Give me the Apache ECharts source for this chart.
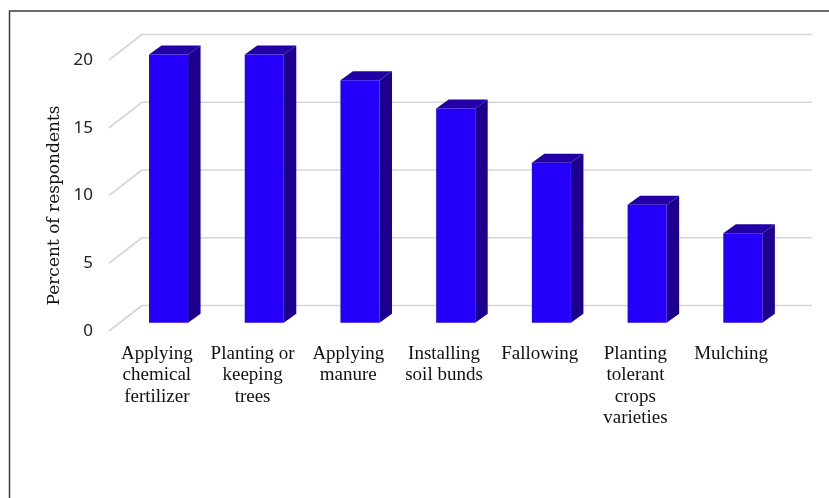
<!DOCTYPE html>
<html>
<head>
<meta charset="utf-8">
<script src="https://cdn.jsdelivr.net/npm/echarts@6/dist/echarts.min.js"></script>
<style>
  html, body { margin: 0; padding: 0; background: #ffffff; }
  #chart { width: 829px; height: 498px; }
</style>
</head>
<body>
<div id="chart"></div>
<script>
// Soil fertility management practices
const categories = [
  'Applying\nchemical\nfertilizer',
  'Planting or\nkeeping\ntrees',
  'Applying\nmanure',
  'Installing\nsoil bunds',
  'Fallowing',
  'Planting\ntolerant\ncrops\nvarieties',
  'Mulching'
];
// Percent of respondents per practice
const respondentShare = [19.8, 19.8, 17.9, 15.8, 11.8, 8.7, 6.6];
// Value axis ticks
const yTicks = [0, 5, 10, 15, 20];

// Pseudo-3D geometry (pixels)
const WALL_DX = 33, WALL_DY = -25.5;      // floor depth, front edge to back wall
const BAR_FRONT_DX = 0, BAR_FRONT_DY = -8.3; // bar front face behind the front edge
const BAR_DX = 12.5, BAR_DY = -9;         // bar depth
const BAR_START = 0.418, BAR_WIDTH = 0.408; // fractions of the category band

const COLOR_FRONT = '#2400fb';
const COLOR_SIDE = '#1c008c';
const COLOR_TOP = '#2200a6';
const GRID_COLOR = '#d6d6d6';

const chart = echarts.init(document.getElementById('chart'), null, { renderer: 'canvas' });

function renderWall(params, api) {
  const v = api.value(1);
  const p = api.coord([0, v]);
  const bw = api.size([1, 0])[0];
  const x0 = p[0] - bw / 2;
  const x1 = x0 + bw * categories.length;
  const y = p[1];
  const style = { stroke: GRID_COLOR, lineWidth: 1.6, fill: null };
  return {
    type: 'group',
    children: [
      { type: 'line', shape: { x1: x0, y1: y, x2: x0 + WALL_DX, y2: y + WALL_DY }, style: style },
      { type: 'line', shape: { x1: x0 + WALL_DX, y1: y + WALL_DY, x2: x1 + WALL_DX, y2: y + WALL_DY }, style: style }
    ]
  };
}

function renderBar(params, api) {
  const i = api.value(0);
  const v = api.value(1);
  const base = api.coord([i, 0]);
  const top = api.coord([i, v]);
  const bw = api.size([1, 0])[0];
  const bandStart = base[0] - bw / 2;
  const fx = bandStart + BAR_START * bw + BAR_FRONT_DX;
  const w = BAR_WIDTH * bw;
  const ty = top[1] + BAR_FRONT_DY;
  const by = base[1] + BAR_FRONT_DY;
  return {
    type: 'group',
    children: [
      {
        type: 'polygon',
        shape: { points: [[fx + w, ty], [fx + w + BAR_DX, ty + BAR_DY], [fx + w + BAR_DX, by + BAR_DY], [fx + w, by]] },
        style: { fill: COLOR_SIDE }
      },
      {
        type: 'polygon',
        shape: { points: [[fx, ty], [fx + BAR_DX, ty + BAR_DY], [fx + w + BAR_DX, ty + BAR_DY], [fx + w, ty]] },
        style: { fill: COLOR_TOP }
      },
      {
        type: 'rect',
        shape: { x: fx, y: ty, width: w, height: by - ty },
        style: { fill: COLOR_FRONT }
      }
    ]
  };
}

chart.setOption({
  animation: false,
  backgroundColor: '#ffffff',
  graphic: [
    {
      type: 'rect',
      shape: { x: 9.5, y: 11, width: 1000, height: 1000 },
      style: { fill: null, stroke: '#3a3a3a', lineWidth: 1.5 },
      silent: true
    }
  ],
  grid: { left: 109, right: 50, top: 60, bottom: 167 },
  xAxis: {
    type: 'category',
    data: categories,
    axisLine: { show: false },
    axisTick: { show: false },
    splitLine: { show: false },
    axisLabel: {
      interval: 0,
      margin: 12,
      fontFamily: 'Liberation Serif',
      fontSize: 19,
      lineHeight: 21.5,
      color: '#111111'
    }
  },
  yAxis: {
    type: 'value',
    min: 0,
    max: 20,
    interval: 5,
    name: 'Percent of respondents',
    nameLocation: 'middle',
    nameRotate: 90,
    nameGap: 44,
    nameTextStyle: { fontFamily: 'DejaVu Serif', fontSize: 17, color: '#111111', padding: [0, 20, 0, 0] },
    axisLine: { show: false },
    axisTick: { show: false },
    splitLine: { show: false },
    axisLabel: {
      margin: 16,
      fontFamily: 'Noto Sans',
      fontSize: 17,
      color: '#222222'
    }
  },
  series: [
    {
      type: 'custom',
      name: 'wall',
      silent: true,
      z: 1,
      renderItem: renderWall,
      data: yTicks.map(v => [0, v])
    },
    {
      type: 'custom',
      name: 'Percent of respondents',
      z: 2,
      renderItem: renderBar,
      data: respondentShare.map((v, i) => [i, v])
    }
  ]
});
</script>
</body>
</html>
